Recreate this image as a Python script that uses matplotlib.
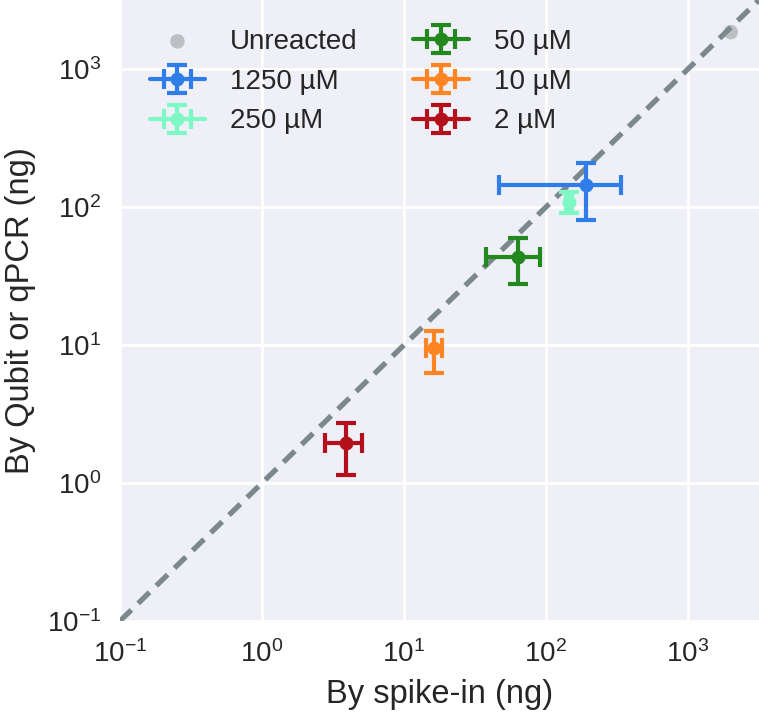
import numpy as np
import matplotlib
matplotlib.use('Agg')
import matplotlib.pyplot as plt
import seaborn as sns
from matplotlib.ticker import LogLocator, NullLocator

# 数据
labels = ['1250 µM', '250 µM', '50 µM', '10 µM', '2 µM']
colors = ['#2e7de8', '#7ef8c4', '#23891f', '#ff8522', '#b3101c']
spike_x = [191, 145, 63.6, 16.3, 3.9]
spike_lo = [47, 138, 37.8, 14.3, 2.78]
spike_hi = [337, 152, 90.7, 18.5, 5.06]
qubit_y = [144, 109, 43.5, 9.5, 1.95]
qubit_lo = [80, 91, 27.7, 6.3, 1.14]
qubit_hi = [208, 128, 59.6, 12.6, 2.72]

unreacted_x = [2000]
unreacted_y = [1850]

sns.set_style('darkgrid', {'axes.facecolor': '#eeeff7'})
plt.rcParams['font.family'] = ['Liberation Sans', 'DejaVu Sans']
plt.rcParams['mathtext.fontset'] = 'custom'
plt.rcParams['mathtext.rm'] = 'Liberation Sans'
plt.rcParams['mathtext.it'] = 'Liberation Sans:italic'
plt.rcParams['mathtext.bf'] = 'Liberation Sans:bold'

fig = plt.figure(figsize=(7.59, 7.25), dpi=100)
ax = fig.add_axes([120 / 759, 104 / 725, 639 / 759, 621 / 725])

lim = (0.1, 10 ** 3.5)
ax.set_xscale('log')
ax.set_yscale('log')
ax.set_xlim(lim)
ax.set_ylim(lim)

# 对角线 y = x
ax.plot(lim, lim, ls=(0, (3, 1.8)), color='#7b898c', lw=3.8, zorder=2)

# 未反应样本
ax.scatter(unreacted_x, unreacted_y, s=110, color='#b0b5b5', alpha=0.8,
           edgecolor='none', zorder=1.5, label='Unreacted')

for i in range(len(labels)):
    xerr = [[spike_x[i] - spike_lo[i]], [spike_hi[i] - spike_x[i]]]
    yerr = [[qubit_y[i] - qubit_lo[i]], [qubit_hi[i] - qubit_y[i]]]
    ax.errorbar([spike_x[i]], [qubit_y[i]], xerr=xerr, yerr=yerr, fmt='o-',
                color=colors[i], ms=9, lw=3, elinewidth=3, capsize=7, capthick=3,
                label=labels[i], zorder=3)

ax.xaxis.set_major_locator(LogLocator(base=10, numticks=10))
ax.yaxis.set_major_locator(LogLocator(base=10, numticks=10))
ax.xaxis.set_minor_locator(NullLocator())
ax.yaxis.set_minor_locator(NullLocator())
ax.grid(True, color='white', lw=2)
ax.tick_params(labelsize=20, pad=10)

ax.set_xlabel('By spike-in (ng)', fontsize=23.5, labelpad=8)
ax.set_ylabel('By Qubit or qPCR (ng)', fontsize=23.5, labelpad=8)

leg = ax.legend(loc='upper left', bbox_to_anchor=(13 / 639, 1 - 12 / 621), ncol=2,
                fontsize=20, frameon=False, handlelength=2.0, columnspacing=2.0,
                labelspacing=0.5, borderaxespad=0.2, handletextpad=0.9)

for s in ax.spines.values():
    s.set_visible(False)

fig.savefig('out.png', dpi=100)
